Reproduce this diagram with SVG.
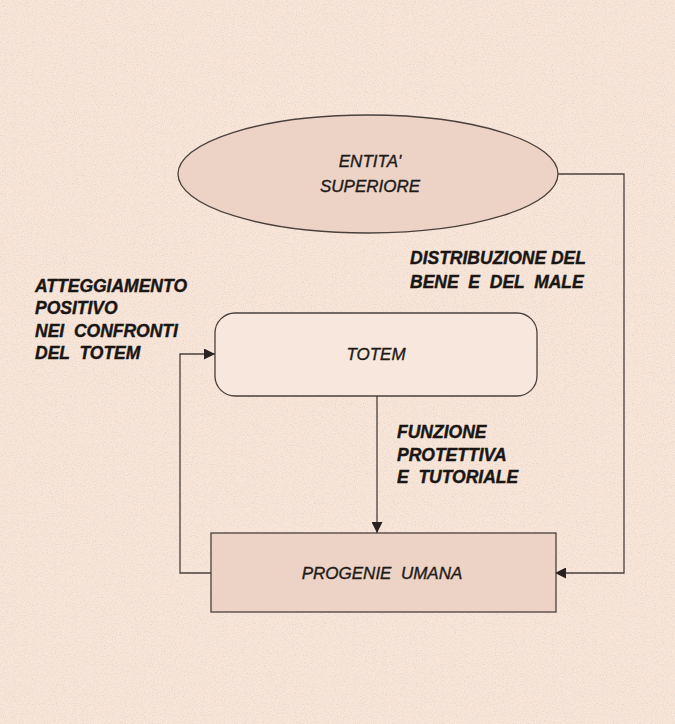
<svg xmlns="http://www.w3.org/2000/svg" width="675" height="724" viewBox="0 0 675 724">
<defs>
<style>
.lbl{font-family:"Liberation Sans",Arial,sans-serif;font-size:17.5px;font-weight:bold;font-style:italic;fill:#1a1614;stroke:#1a1614;stroke-width:0.4;white-space:pre}
.nt{font-family:"Liberation Sans",Arial,sans-serif;font-size:17px;font-style:italic;fill:#1e1a18;stroke:#1e1a18;stroke-width:0.35;text-anchor:middle;white-space:pre}
.edge{fill:none;stroke:#4a403c;stroke-width:1.3}
.shape{stroke:#4a403c;stroke-width:1.3}
</style>
<marker id="ah" viewBox="0 0 10 10" refX="10" refY="5" markerWidth="11" markerHeight="11" markerUnits="userSpaceOnUse" orient="auto">
<path d="M0,0 L10,5 L0,10 z" fill="#2a2220"/>
</marker>
<filter id="noise" x="0" y="0" width="100%" height="100%">
<feTurbulence type="fractalNoise" baseFrequency="0.9" numOctaves="2" seed="3" result="n"/>
<feColorMatrix type="matrix" values="0 0 0 0 0.55  0 0 0 0 0.5  0 0 0 0 0.47  0 0 0 -2 1.05" in="n"/>
</filter>
</defs>
<rect width="675" height="724" fill="#f9e6d9"/>
<rect width="675" height="724" filter="url(#noise)" opacity="0.5"/>
<g id="connectors">
<polyline class="edge" points="558,174 624,174 624,573 555,573" marker-end="url(#ah)"/>
<line class="edge" x1="377" y1="396" x2="377" y2="533" marker-end="url(#ah)"/>
<polyline class="edge" points="211,573 180,573 180,354 215,354" marker-end="url(#ah)"/>
</g>
<g id="entita">
<ellipse class="shape" cx="368" cy="174" rx="190" ry="59" fill="#ecd3c6"/>
<text class="nt" x="370" y="167">ENTITA'</text>
<text class="nt" x="370" y="192">SUPERIORE</text>
</g>
<g id="totem">
<rect class="shape" x="215" y="313" width="322" height="83" rx="20" fill="#f8e7dc"/>
<text class="nt" x="376" y="360">TOTEM</text>
</g>
<g id="progenie">
<rect class="shape" x="211" y="533" width="345" height="79" fill="#ecd3c6"/>
<text class="nt" x="382" y="579" xml:space="preserve">PROGENIE  UMANA</text>
</g>
<g id="labels">
<text class="lbl" x="410" y="264" xml:space="preserve">DISTRIBUZIONE DEL</text>
<text class="lbl" x="410" y="288" xml:space="preserve">BENE  E  DEL  MALE</text>
<text class="lbl" x="35" y="292">ATTEGGIAMENTO</text>
<text class="lbl" x="35" y="314">POSITIVO</text>
<text class="lbl" x="35" y="337" xml:space="preserve">NEI  CONFRONTI</text>
<text class="lbl" x="35" y="359" xml:space="preserve">DEL  TOTEM</text>
<text class="lbl" x="397" y="438">FUNZIONE</text>
<text class="lbl" x="397" y="461">PROTETTIVA</text>
<text class="lbl" x="397" y="483" xml:space="preserve">E  TUTORIALE</text>
</g>
</svg>
